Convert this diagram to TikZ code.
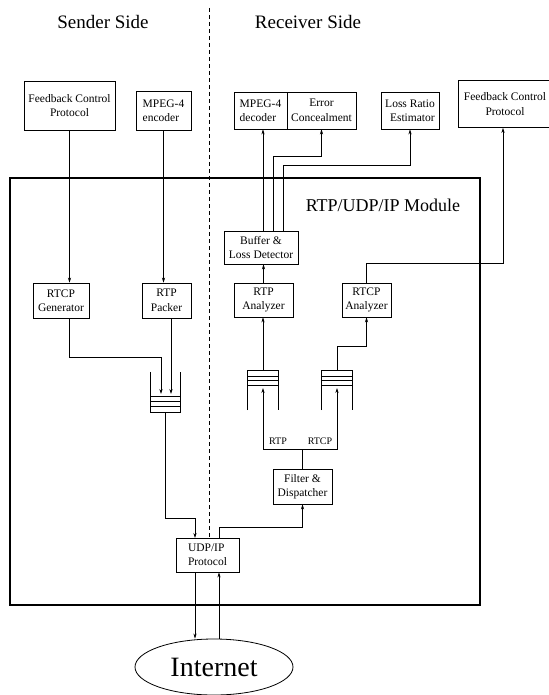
\documentclass[tikz,border=0pt]{standalone}
\usepackage{fontspec}
\setmainfont{Liberation Serif}
\usetikzlibrary{arrows.meta,shapes.geometric,calc}
\tikzset{
  boxn/.style={draw, line width=0.8pt, inner sep=0pt, align=center, font=\fontsize{11.5}{14.5}\selectfont},
  arr/.style={line width=0.7pt, -{Stealth[length=5pt,width=3.2pt]}},
  ln/.style={line width=0.7pt},
  qbox/.style={draw=none, inner sep=0pt, minimum width=30pt},
  qline/.style={line width=0.8pt},
  title/.style={font=\fontsize{19}{22}\selectfont},
  small/.style={font=\fontsize{10}{12}\selectfont, inner sep=0pt}
}
\begin{document}
\begin{tikzpicture}[x=1pt,y=-1pt]
\useasboundingbox (0,0) rectangle (548,695);
\fill[white] (0,0) rectangle (548,695);

% titles and divider
\node[title] (tS) at (103,22) {Sender Side};
\node[title] (tR) at (308,22) {Receiver Side};
\draw[line width=0.6pt, dash pattern=on 4pt off 3pt] (209,8) -- (209,538);

% module frame
\draw[line width=2.6pt] (10,178) rectangle (480,605);
\node[font=\fontsize{18}{20}\selectfont] (modt) at (383,205) {RTP/UDP/IP Module};

% top boxes
\node[boxn, minimum width=91pt, minimum height=49pt] (fcpL) at (69.5,105.5) {Feedback Control\\Protocol};
\node[boxn, align=left, minimum width=55pt, minimum height=39pt] (enc) at (163.5,110.5) {MPEG-4\\encoder};
\node[boxn, align=left, minimum width=53pt, minimum height=37pt] (dec) at (260.5,110.5) {MPEG-4\\decoder};
\node[boxn, minimum width=69pt, minimum height=37pt] (err) at (321.5,110.5) {Error\\Concealment};
\node[boxn, align=right, minimum width=58pt, minimum height=37pt] (lre) at (410,110.5) {Loss Ratio\\Estimator};
\node[boxn, minimum width=94pt, minimum height=47pt] (fcpR) at (505,104) {Feedback Control\\Protocol};

% inner boxes
\node[boxn, minimum width=56pt, minimum height=35pt] (rtcpg) at (61,300.5) {RTCP\\Generator};
\node[boxn, minimum width=49pt, minimum height=35pt] (rtpp) at (166.5,300.5) {RTP\\Packer};
\node[boxn, minimum width=74pt, minimum height=33pt] (buf) at (261,247.5) {Buffer \&\\Loss Detector};
\node[boxn, minimum width=59pt, minimum height=34pt] (rtpa) at (263.5,300) {RTP\\Analyzer};
\node[boxn, minimum width=49pt, minimum height=34pt] (rtcpa) at (366.5,300) {RTCP\\Analyzer};
\node[boxn, minimum width=59pt, minimum height=35pt] (filt) at (302.5,486.5) {Filter \&\\Dispatcher};
\node[boxn, align=left, minimum width=63pt, minimum height=34pt] (udp) at (207.5,555) {UDP/IP\\Protocol};
\node[draw, ellipse, line width=0.8pt, minimum width=158pt, minimum height=56pt, inner sep=0pt, font=\fontsize{28}{30}\selectfont] (inet) at (214,667) {Internet};

% queues
\node[qbox, minimum height=40pt] (sq) at (165.5,392) {};
\draw[qline] (sq.north west) -- (sq.south west) -- (sq.south east) -- (sq.north east);
\foreach \d in {6,11,16} \draw[qline] ([yshift=\d pt]sq.south west) -- ([yshift=\d pt]sq.south east);

\node[qbox, minimum height=39pt] (rq1) at (263,390.5) {};
\draw[qline] (rq1.south west) -- (rq1.north west) -- (rq1.north east) -- (rq1.south east);
\foreach \d in {6,10,15} \draw[qline] ([yshift=-\d pt]rq1.north west) -- ([yshift=-\d pt]rq1.north east);

\node[qbox, minimum height=39pt] (rq2) at (337,390.5) {};
\draw[qline] (rq2.south west) -- (rq2.north west) -- (rq2.north east) -- (rq2.south east);
\foreach \d in {6,10,15} \draw[qline] ([yshift=-\d pt]rq2.north west) -- ([yshift=-\d pt]rq2.north east);

\coordinate (sqa) at (161,394);
\coordinate (sqb) at (171,394);
\coordinate (rq1a) at (263,388);
\coordinate (rq2a) at (337,388);
\coordinate (sp) at (302.5,449);

% sender connectors
\draw[arr] (fcpL.south) -- (fcpL.south |- rtcpg.north);
\draw[arr] (enc.south) -- (enc.south |- rtpp.north);
\draw[arr] (fcpL.south |- rtcpg.south) |- (161,357) -- (sqa);
\draw[arr] (sqb |- rtpp.south) -- (sqb);
\draw[arr] (sq.south) |- (195,518) -- (195,538);
\draw[arr] ([xshift=11.5pt]udp.north) -- ++(0,-10) -| (filt.south);
\draw[arr] ([xshift=-12.5pt]udp.south) -- ([xshift=-12.5pt]udp.south |- inet.north);
\draw[arr] ([xshift=11.5pt]udp.south |- inet.north) -- ([xshift=11.5pt]udp.south);

% receiver connectors
\draw[ln] (filt.north) -- (sp);
\draw[arr] (sp) -| (rq1a);
\draw[arr] (sp) -| (rq2a);
\node[small] (lrtp) at (278,441) {RTP};
\node[small] (lrtcp) at (320,441) {RTCP};
\draw[arr] (rq1.north) -- (rq1.north |- rtpa.south);
\draw[arr] (rtpa.north) -- (rtpa.north |- buf.south);
\draw[arr] (rq2.north) -- ++(0,-24) -| (rtcpa.south);
\draw[arr] (rtcpa.north) -- ++(0,-19) -| ([xshift=-2pt]fcpR.south);
\draw[arr] ([xshift=2pt]buf.north) -- ([xshift=2pt]buf.north |- dec.south);
\draw[arr] ([xshift=12pt]buf.north) -- ++(0,-74) -| (err.south);
\draw[arr] ([xshift=22pt]buf.north) -- ++(0,-65) -| (lre.south);
\end{tikzpicture}
\end{document}
